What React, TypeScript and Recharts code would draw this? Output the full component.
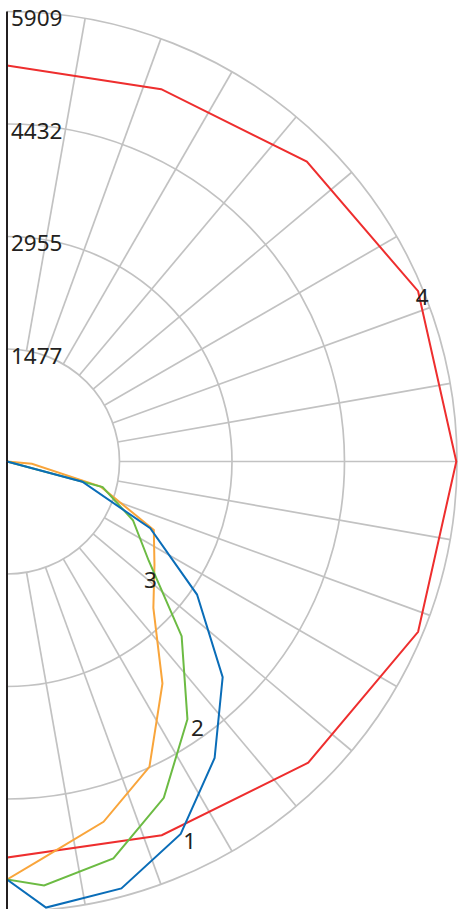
import { PolarAngleAxis, PolarGrid, PolarRadiusAxis, Radar, RadarChart } from "recharts";

// angles are degrees clockwise from the upward axis
const upperAngles = [0, 22.5, 45, 67.5, 90, 112.5, 135, 157.5, 180];
const series4 = [5200, 5292, 5568, 5843, 5900, 5843, 5594, 5311, 5200];

const lowerAngles = [85, 95, 105, 115, 125, 135, 145, 155, 165, 175, 180];
const series1 = [0, 0, 1024, 2075, 3046, 4005, 4753, 5397, 5804, 5880, 5489];
const series2 = [0, 0, 1300, 1825, 2272, 3243, 4131, 4872, 5397, 5589, 5489];
const series3 = [0, 328, 1274, 2127, 2364, 2718, 3559, 4425, 4898, 5239, 5489];

const radiusTicks = [1477.25, 2954.5, 4431.75, 5909];
const radiusMax = 5909;

const W = 458;
const H = 909;
const CX = 7;
const CY = 461.5;
const OUTER = 450;
const INK = "#231f20";
const FONT = "'Noto Sans', sans-serif";

const ringRadii = radiusTicks.map((t) => (t / radiusMax) * OUTER);
const spokeAngles = Array.from({ length: 19 }, (_, i) => 90 - i * 10);

type Row = { angle: number; s1: number | null; s2: number | null; s3: number | null; s4: number | null };

// recharts closes each radar path; the closing runs along the vertical axis,
// which is drawn on top in its own layer
const data: Row[] = [
  ...upperAngles.map((angle, i) => ({ angle, s1: null, s2: null, s3: null, s4: series4[i] })),
  ...lowerAngles.map((angle, i) => ({ angle, s1: series1[i], s2: series2[i], s3: series3[i], s4: null })),
];

const lowerIndex = (a: number) => upperAngles.length + lowerAngles.indexOf(a);

function seriesTag(text: string, at: number, dx: number, dy: number) {
  return (props: any) => {
    if (props.index !== at) return <g key={props.key} />;
    return (
      <text key={props.key} x={props.cx + dx} y={props.cy + dy + 8} textAnchor="middle" fontSize={22.5} fontFamily={FONT} fill={INK} stroke="none">
        {text}
      </text>
    );
  };
}

function RadiusTick(props: any) {
  const { x, y, payload } = props;
  return (
    <text x={x + 4} y={y + 14.5} fontSize={22.5} fontFamily={FONT} fill={INK}>
      {Math.round(payload.value)}
    </text>
  );
}

const margin = { top: 0, right: 0, bottom: 0, left: 0 };
const layer = { position: "absolute" as const, left: 0, top: 0 };

export default function App() {
  return (
    <div style={{ position: "relative", width: W, height: H }}>
      <style>{"body{margin:0}"}</style>
      {/* grid only shows right of the axis */}
      <div style={{ position: "absolute", left: CX, top: 0, width: W - CX, height: H, overflow: "hidden" }}>
        <div style={{ position: "absolute", left: -CX, top: 0 }}>
          <RadarChart width={W} height={H} cx={CX} cy={CY} innerRadius={ringRadii[0]} outerRadius={OUTER} startAngle={90} endAngle={-90} margin={margin}>
            <PolarGrid gridType="circle" polarAngles={spokeAngles} polarRadius={ringRadii} stroke="#c2c2c2" strokeWidth={1.7} />
          </RadarChart>
        </div>
      </div>
      <div style={layer}>
        <RadarChart width={W} height={H} cx={CX} cy={CY} innerRadius={0} outerRadius={OUTER} startAngle={90} endAngle={-90} margin={margin} data={data}>
          <PolarAngleAxis dataKey="angle" type="number" domain={[0, 180]} tick={false} tickLine={false} axisLine={false} />
          <Radar dataKey="s4" stroke="#ee2e2e" strokeWidth={2} fill="none" fillOpacity={0} isAnimationActive={false} dot={seriesTag("4", 3, 4, 6)} />
          <Radar dataKey="s3" stroke="#f9a53b" strokeWidth={2} fill="none" fillOpacity={0} isAnimationActive={false} dot={seriesTag("3", lowerIndex(125), -4, 15)} />
          <Radar dataKey="s2" stroke="#6cbb43" strokeWidth={2} fill="none" fillOpacity={0} isAnimationActive={false} dot={seriesTag("2", lowerIndex(145), 10, 9)} />
          <Radar dataKey="s1" stroke="#0a6db8" strokeWidth={2} fill="none" fillOpacity={0} isAnimationActive={false} dot={seriesTag("1", lowerIndex(155), 9, 7)} />
          <PolarRadiusAxis angle={90} domain={[0, radiusMax]} ticks={radiusTicks} tick={RadiusTick} tickLine={false} axisLine={false} allowDataOverflow />
        </RadarChart>
      </div>
      {/* the vertical axis: one spoke up, one down, through the centre */}
      <div style={layer}>
        <RadarChart width={W} height={H} cx={CX} cy={CY} innerRadius={0} outerRadius={OUTER} startAngle={90} endAngle={-90} margin={margin}>
          <PolarGrid gridType="circle" polarAngles={[90, -90]} polarRadius={[]} stroke={INK} strokeWidth={2} />
        </RadarChart>
      </div>
    </div>
  );
}
